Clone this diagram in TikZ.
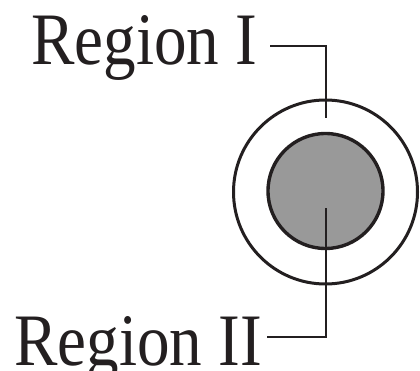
\documentclass[tikz,border=0pt]{standalone}
\usepackage{fontspec}
\setmainfont{Liberation Serif}
\definecolor{diskgray}{HTML}{999999}
\definecolor{ink}{HTML}{231F20}
\begin{document}
\begin{tikzpicture}[x=1pt,y=-1pt,
  lbl/.style={anchor=base west,inner sep=0pt,text=ink,font=\fontsize{74}{80}\selectfont},
  leader/.style={draw=ink,line width=1.8pt},
  ring/.style={draw=ink,line width=3pt}]
\useasboundingbox (0,0) rectangle (420,371);
\node[ring,circle,minimum size=184pt,inner sep=0pt] (outer) at (325.5,192) {};
\node[ring,circle,fill=diskgray,line width=3.4pt,minimum size=115pt,inner sep=0pt] (inner) at (325.5,191) {};
\node[lbl] (r1) at (31,65) {\scalebox{0.88}[1]{Region I}};
\node[lbl] (r2) at (14,365) {\scalebox{0.88}[1]{Region II}};
\coordinate (e1) at (326,118);
\coordinate (e2) at (326,208);
\draw[leader] ([shift={(13pt,19.3pt)}]r1.base east) -| (e1);
\draw[leader] ([shift={(5pt,28pt)}]r2.base east) -| (e2);
\end{tikzpicture}
\end{document}
